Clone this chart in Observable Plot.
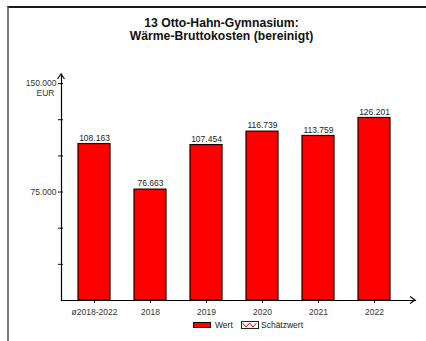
<!DOCTYPE html>
<html><head><meta charset="utf-8">
<script src="https://cdn.jsdelivr.net/npm/d3@7"></script>
<script src="https://cdn.jsdelivr.net/npm/@observablehq/plot@0.6"></script>
<style>
body{margin:0;background:#fff;font-family:"Liberation Sans",Arial,sans-serif;}
#wrap{position:relative;width:426px;height:341px;overflow:hidden;background:#fff}
#frame{position:absolute;left:7px;top:6px;width:440px;height:360px;border-top:2px solid #1a1a1a;border-left:2px solid #7a7a7a;box-sizing:border-box}
#title{position:absolute;left:0;width:443px;top:17px;text-align:center;font-weight:bold;font-size:12.2px;line-height:13px;color:#111}
#chart{position:absolute;left:0;top:0}
#legend{position:absolute;top:319px;left:0;width:426px;height:12px;font-size:8.5px;color:#222}
#legend .sw{position:absolute;top:3px}
#legend .lb{position:absolute;top:1px;line-height:10px}
</style></head>
<body>
<div id="wrap">
  <div id="frame"></div>
  <div id="chart"></div>
  <div id="title">13 Otto-Hahn-Gymnasium:<br>Wärme-Bruttokosten (bereinigt)</div>
  <div id="legend"></div>
</div>
<script>
const categories = ["ø2018-2022", "2018", "2019", "2020", "2021", "2022"];
const values = [108163, 76663, 107454, 116739, 113759, 126201];
const yTicks = [25000, 50000, 75000, 100000, 125000, 150000];
const yLabelled = [75000, 150000];
const unit = "EUR";
const legendItems = ["Wert", "Schätzwert"];

const de = d3.formatLocale({decimal: ",", thousands: ".", grouping: [3], currency: ["", " €"]});
const fmt = de.format(",d");
const data = categories.map((c, i) => ({cat: c, value: values[i]}));

const plot = Plot.plot({
  width: 426,
  height: 341,
  marginTop: 74,
  marginBottom: 41,
  marginLeft: 61,
  marginRight: 11,
  style: {fontFamily: "'Liberation Sans', Arial, sans-serif", fontSize: "8.5px", color: "#222", background: "transparent", overflow: "visible"},
  x: {domain: categories, paddingInner: 0.431, paddingOuter: 0.354, align: 0.4, label: null},
  y: {domain: [0, 156250], label: null},
  marks: [
    Plot.barY(data, {x: "cat", y: "value", fill: "#ff0000", stroke: "#1a0000", strokeWidth: 1.2}),
    Plot.text(data, {x: "cat", y: "value", text: d => fmt(d.value), lineAnchor: "middle", dy: -6, fill: "#222", fontSize: 8.5}),
    Plot.axisY({ticks: yTicks, tickSize: 5, dx: 2, tickFormat: () => "", label: null, stroke: "#111"}),
    Plot.axisY({ticks: yLabelled, tickSize: 0, tickPadding: 5, tickFormat: d => fmt(d), label: null, fill: "#333", fontSize: 8.5}),
    Plot.text([yLabelled[1]], {y: d => d, frameAnchor: "left", text: () => unit, textAnchor: "end", dx: -7, dy: 10, fill: "#333", fontSize: 8.5}),
    Plot.axisX({tickSize: 3, tickPadding: 5, label: null, fill: "#333", stroke: "#111", fontSize: 8.5}),
    Plot.frame({anchor: "left", stroke: "#000", strokeWidth: 1.2}),
    Plot.frame({anchor: "bottom", stroke: "#000", strokeWidth: 1.2})
  ]
});
document.getElementById("chart").appendChild(plot);

// arrow heads at the ends of the axes, placed from the plot's scales
const xs = plot.scale("x"), ys = plot.scale("y");
const x0 = xs.range[0], x1 = xs.range[1];
const yTop = ys.apply(ys.domain[1]), yBase = ys.apply(0);
const svg = d3.select(plot);
svg.append("path")
  .attr("d", `M${x0 - 3.5},${yTop + 5}L${x0},${yTop}L${x0 + 3.5},${yTop + 5}`)
  .attr("fill", "none").attr("stroke", "#000").attr("stroke-width", 1.1);
svg.append("path")
  .attr("d", `M${x1 - 5},${yBase - 3.5}L${x1},${yBase}L${x1 - 5},${yBase + 3.5}`)
  .attr("fill", "none").attr("stroke", "#000").attr("stroke-width", 1.1);

// legend
const lg = document.getElementById("legend");
lg.innerHTML =
  `<svg class="sw" style="left:193px" width="18" height="6"><rect x="0.5" y="0.5" width="17" height="5" fill="#ff0000" stroke="#1a0000"/></svg>` +
  `<span class="lb" style="left:215px">${legendItems[0]}</span>` +
  `<svg class="sw" style="left:241px;top:2px" width="18" height="8"><rect x="0.5" y="0.5" width="17" height="7" fill="#fff" stroke="#222"/><path d="M1.5,2L5,6L8.5,2L12,6L15.5,2" fill="none" stroke="#ff0000" stroke-width="1"/></svg>` +
  `<span class="lb" style="left:261px">${legendItems[1]}</span>`;
</script>
</body></html>
